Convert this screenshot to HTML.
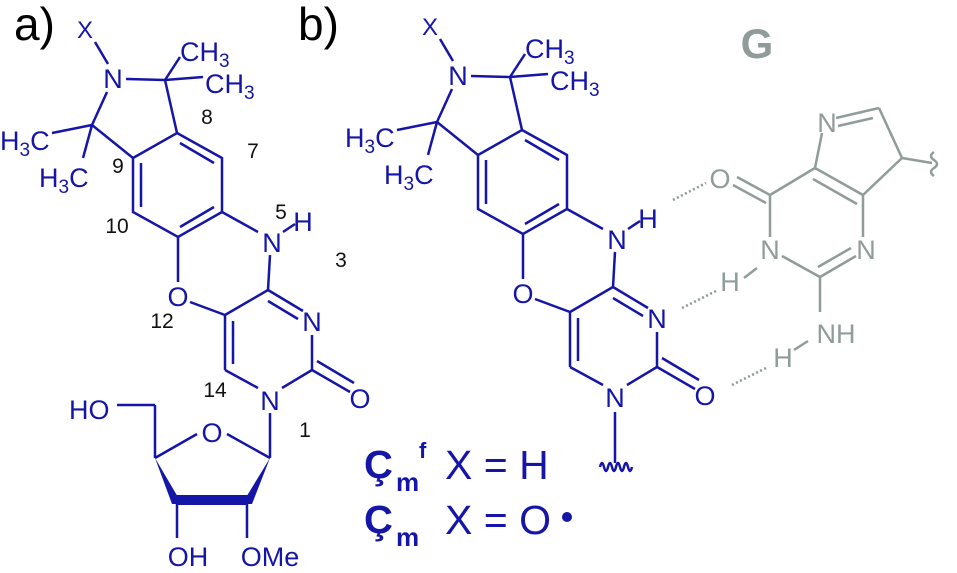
<!DOCTYPE html>
<html><head><meta charset="utf-8"><style>
html,body{margin:0;padding:0;background:#fff;}
svg{display:block;}
text{font-family:"Liberation Sans",sans-serif;}
</style></head><body>
<svg width="957" height="573" viewBox="0 0 957 573" xmlns="http://www.w3.org/2000/svg">
<defs>
<g id="core">
 <g stroke="#1515a8" stroke-width="2.5" fill="none">
  <line x1="95" y1="42" x2="108" y2="64"/>
  <line x1="126" y1="79" x2="165" y2="80"/>
  <line x1="165" y1="80" x2="180" y2="57"/>
  <line x1="165" y1="80" x2="203" y2="77"/>
  <line x1="107" y1="92" x2="92" y2="125"/>
  <line x1="92" y1="125" x2="52" y2="133"/>
  <line x1="92" y1="125" x2="83" y2="158"/>
  <line x1="92" y1="125" x2="133" y2="158"/>
  <line x1="165" y1="80" x2="177" y2="133"/>
  <polygon points="177,133 222,158 222,212 178,237 133,212 133,158"/>
  <line x1="180" y1="143" x2="214" y2="163"/>
  <line x1="141" y1="163" x2="141" y2="207"/>
  <line x1="214" y1="207" x2="180" y2="227"/>
  <line x1="222" y1="212" x2="258" y2="232"/>
  <line x1="283" y1="232" x2="295" y2="224"/>
  <line x1="270" y1="255" x2="268" y2="290"/>
  <line x1="178" y1="237" x2="178" y2="282"/>
  <line x1="190" y1="302" x2="225" y2="315"/>
  <line x1="225" y1="315" x2="268" y2="290"/>
  <line x1="268" y1="290" x2="303" y2="311"/>
  <line x1="268" y1="301" x2="298" y2="319"/>
  <line x1="312" y1="335" x2="312" y2="370"/>
  <line x1="312" y1="370" x2="350" y2="392"/>
  <line x1="317" y1="361" x2="354" y2="383"/>
  <line x1="312" y1="370" x2="282" y2="388"/>
  <line x1="258" y1="388" x2="225" y2="370"/>
  <line x1="225" y1="370" x2="225" y2="315"/>
  <line x1="233" y1="321" x2="233" y2="364"/>
 </g>
 <g fill="#1515a8" font-size="27">
  <text x="85" y="38" text-anchor="middle" font-size="24">X</text>
  <text x="113" y="88" text-anchor="middle">N</text>
  <text x="180" y="61">CH<tspan font-size="19" dy="6">3</tspan></text>
  <text x="205" y="93">CH<tspan font-size="19" dy="6">3</tspan></text>
  <text x="0" y="150">H<tspan font-size="19" dy="6">3</tspan><tspan dy="-6">C</tspan></text>
  <text x="39" y="187">H<tspan font-size="19" dy="6">3</tspan><tspan dy="-6">C</tspan></text>
  <text x="272" y="252" text-anchor="middle">N</text>
  <text x="303" y="231" text-anchor="middle">H</text>
  <text x="178" y="306" text-anchor="middle">O</text>
  <text x="312" y="331" text-anchor="middle">N</text>
  <text x="360" y="408" text-anchor="middle">O</text>
  <text x="270" y="410" text-anchor="middle">N</text>
 </g>
</g>
</defs>

<text x="14" y="40" font-size="46" fill="#000">a)</text>
<text x="298" y="40" font-size="46" fill="#000">b)</text>

<use href="#core"/>
<g fill="#111" font-size="21">
 <text x="207" y="124" text-anchor="middle">8</text>
 <text x="253" y="158" text-anchor="middle">7</text>
 <text x="118" y="173" text-anchor="middle">9</text>
 <text x="117" y="233" text-anchor="middle">10</text>
 <text x="281" y="219" text-anchor="middle">5</text>
 <text x="341" y="267" text-anchor="middle">3</text>
 <text x="162" y="328" text-anchor="middle">12</text>
 <text x="215" y="397" text-anchor="middle">14</text>
 <text x="305" y="437" text-anchor="middle">1</text>
</g>
<!-- sugar -->
<g stroke="#1515a8" stroke-width="2.5" fill="none">
 <line x1="270" y1="413" x2="270" y2="458"/>
 <line x1="270" y1="458" x2="227" y2="434"/>
 <line x1="197" y1="434" x2="155" y2="458"/>
 <line x1="117" y1="405" x2="155" y2="405"/>
 <line x1="155" y1="405" x2="155" y2="458"/>
 <line x1="177" y1="500" x2="177" y2="538"/>
 <line x1="247" y1="500" x2="247" y2="538"/>
</g>
<g fill="#1515a8">
 <polygon points="155,458 172,504 182,504"/>
 <polygon points="270,458 242,504 252,504"/>
 <rect x="176" y="495" width="72" height="10"/>
</g>
<g fill="#1515a8" font-size="27">
 <text x="69" y="419">HO</text>
 <text x="212" y="442" text-anchor="middle">O</text>
 <text x="188" y="566" text-anchor="middle">OH</text>
 <text x="270" y="566" text-anchor="middle">OMe</text>
</g>

<use href="#core" transform="translate(345,-3)"/>
<g stroke="#1515a8" stroke-width="2.5" fill="none">
 <line x1="615" y1="412" x2="615" y2="463"/>
 <path d="M600,467 q2,-8 4,0 q2,8 4,0 q2,-8 4,0 q2,8 4,0 q2,-8 4,0 q2,8 4,0 q2,-8 4,0 q2,8 4,0"/>
</g>

<g fill="#1515a8">
 <text x="364" y="478" font-size="40" font-weight="bold">Ç</text>
 <text x="396" y="491" font-size="26" font-weight="bold">m</text>
 <text x="419" y="458" font-size="22" font-weight="bold">f</text>
 <text x="445" y="479" font-size="41">X = H</text>
 <text x="364" y="533" font-size="40" font-weight="bold">Ç</text>
 <text x="396" y="546" font-size="26" font-weight="bold">m</text>
 <text x="445" y="534" font-size="41">X = O</text>
 <circle cx="567" cy="517" r="5"/>
</g>

<!-- G -->
<g stroke="#909c9a" stroke-width="2.5" fill="none">
 <line x1="836" y1="118" x2="879" y2="108"/>
 <line x1="838" y1="126" x2="873" y2="118"/>
 <line x1="879" y1="108" x2="902" y2="158"/>
 <line x1="902" y1="158" x2="863" y2="195"/>
 <line x1="902" y1="158" x2="932" y2="163"/>
 <line x1="863" y1="195" x2="815" y2="168"/>
 <line x1="857" y1="204" x2="813" y2="179"/>
 <line x1="815" y1="168" x2="822" y2="133"/>
 <line x1="815" y1="168" x2="770" y2="195"/>
 <line x1="770" y1="195" x2="737" y2="177"/>
 <line x1="766" y1="203" x2="733" y2="185"/>
 <line x1="770" y1="195" x2="770" y2="237"/>
 <line x1="782" y1="256" x2="820" y2="277"/>
 <line x1="820" y1="277" x2="856" y2="256"/>
 <line x1="818" y1="267" x2="851" y2="248"/>
 <line x1="863" y1="237" x2="863" y2="195"/>
 <line x1="820" y1="277" x2="820" y2="312"/>
 <line x1="744" y1="278" x2="757" y2="268"/>
 <line x1="794" y1="350" x2="808" y2="341"/>
 <path d="M934,152 q-6,4 0,8 q6,4 0,8 q-6,4 0,8" />
</g>
<g stroke="#909c9a" stroke-width="2.6" stroke-dasharray="2,2.5" fill="none">
 <line x1="673" y1="200" x2="706" y2="183"/>
 <line x1="682" y1="308" x2="716" y2="291"/>
 <line x1="732" y1="385" x2="766" y2="368"/>
</g>
<g fill="#909c9a" font-size="27">
 <text x="757" y="58" text-anchor="middle" font-size="42" font-weight="bold">G</text>
 <text x="827" y="132" text-anchor="middle">N</text>
 <text x="720" y="188" text-anchor="middle">O</text>
 <text x="770" y="259" text-anchor="middle">N</text>
 <text x="866" y="259" text-anchor="middle">N</text>
 <text x="730" y="291" text-anchor="middle">H</text>
 <text x="836" y="343" text-anchor="middle">NH</text>
 <text x="783" y="367" text-anchor="middle">H</text>
</g>
</svg>
</body></html>
